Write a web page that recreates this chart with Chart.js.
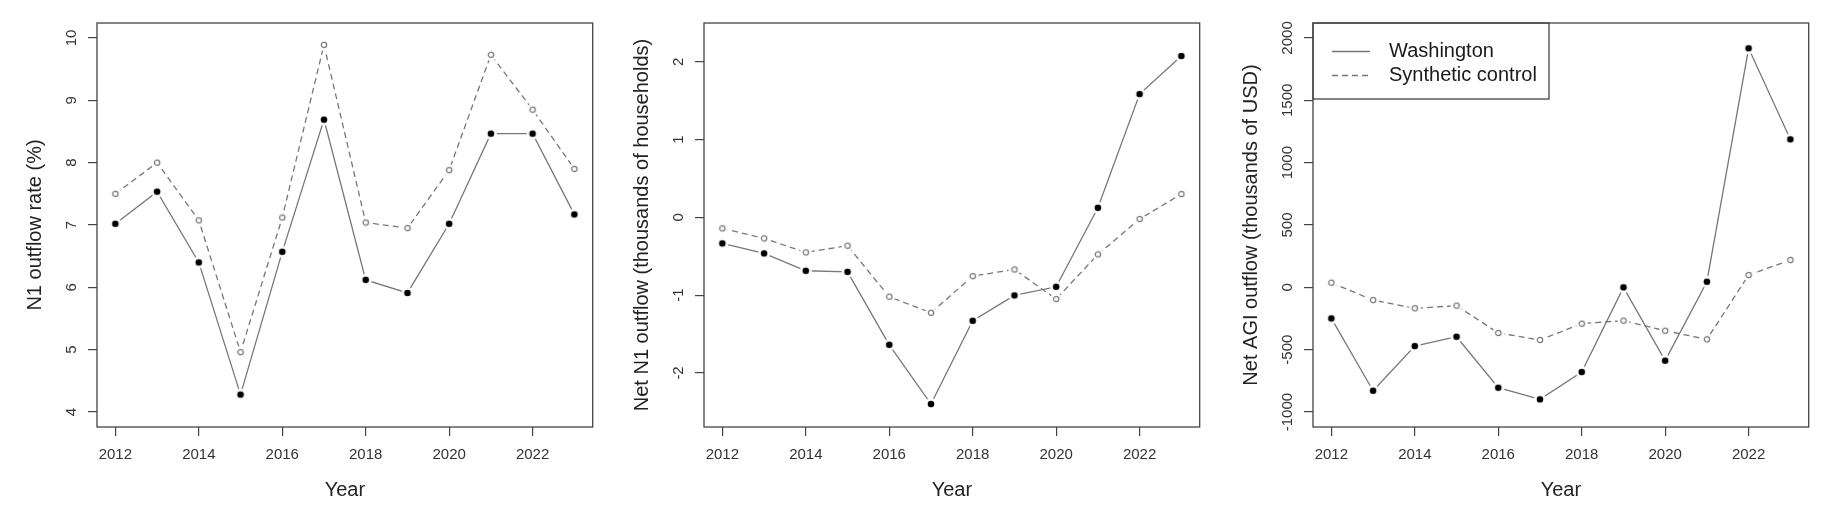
<!DOCTYPE html>
<html>
<head>
<meta charset="utf-8">
<script src="https://cdn.jsdelivr.net/npm/chart.js@4.4.1/dist/chart.umd.min.js"></script>
<style>
  body { margin: 0; background: #fff; }
  .panel { position: absolute; top: 0; }
</style>
</head>
<body>
<canvas id="rate" class="panel" width="581" height="510" style="left:17px"></canvas>
<canvas id="net" class="panel" width="581" height="510" style="left:624px"></canvas>
<canvas id="agi" class="panel" width="581" height="510" style="left:1233px"></canvas>
<script>
// Years on the x axis and the labelled ticks
const years = [2012, 2013, 2014, 2015, 2016, 2017, 2018, 2019, 2020, 2021, 2022, 2023];
const xTicks = [2012, 2014, 2016, 2018, 2020, 2022];

// Panel 1 - N1 outflow rate (%)
const waRate = [7.02, 7.535, 6.40, 4.28, 6.57, 8.69, 6.12, 5.91, 7.02, 8.465, 8.465, 7.17];
const scRate = [7.50, 8.00, 7.075, 4.96, 7.12, 9.89, 7.04, 6.95, 7.88, 9.73, 8.85, 7.90];
const rateTicks = [4, 5, 6, 7, 8, 9, 10];

// Panel 2 - net N1 outflow (thousands of households)
const waNet = [-0.334, -0.463, -0.686, -0.70, -1.638, -2.40, -1.329, -1.003, -0.892, 0.124, 1.586, 2.075];
const scNet = [-0.141, -0.27, -0.45, -0.364, -1.02, -1.226, -0.755, -0.669, -1.05, -0.476, -0.021, 0.30];
const netTicks = [-2, -1, 0, 1, 2];

// Panel 3 - net AGI outflow (thousands of USD)
const waAgi = [-249, -829, -471, -396, -805, -898, -679, 0, -588, 45, 1917, 1187];
const scAgi = [37, -102, -168, -147, -366, -422, -291, -267, -348, -417, 99, 219];
const agiTicks = [-1000, -500, 0, 500, 1000, 1500, 2000];

const seriesNames = ['Washington', 'Synthetic control'];

const FONT = "'Liberation Sans', Arial, sans-serif";
const LINE = '#777';

// marker with a white halo, so the line stops short of the point (like R type="b")
const makeMarker = (filled) => {
    const c = document.createElement('canvas');
    c.width = 14;
    c.height = 14;
    const g = c.getContext('2d');
    g.fillStyle = '#fff';
    g.beginPath();
    g.arc(7, 7, 6, 0, Math.PI * 2);
    g.fill();
    g.beginPath();
    if (filled) {
        g.arc(7, 7, 3.3, 0, Math.PI * 2);
        g.fillStyle = '#000';
        g.fill();
    } else {
        g.arc(7, 7, 2.7, 0, Math.PI * 2);
        g.strokeStyle = LINE;
        g.lineWidth = 1.2;
        g.stroke();
    }
    return c;
};
const solidMark = makeMarker(true);
const openMark = makeMarker(false);

const toPoints = (vals) => vals.map((v, i) => ({ x: years[i], y: v }));

// box round the plot, rotated y tick labels and the legend
const framePlugin = {
    id: 'frame',
    afterDraw(chart, args, opts) {
        const { ctx, chartArea: a, scales: { y } } = chart;
        ctx.save();
        ctx.strokeStyle = '#444';
        ctx.lineWidth = 1.3;
        ctx.strokeRect(a.left, a.top, a.right - a.left, a.bottom - a.top);

        ctx.font = `15px ${FONT}`;
        ctx.fillStyle = '#333';
        ctx.textAlign = 'center';
        ctx.textBaseline = 'middle';
        y.ticks.forEach(t => {
            ctx.save();
            ctx.translate(a.left - 25, y.getPixelForValue(t.value));
            ctx.rotate(-Math.PI / 2);
            ctx.fillText(String(t.value), 0, 0);
            ctx.restore();
        });

        if (opts.legend) {
            ctx.strokeRect(a.left, a.top, 236, 76);
            ctx.font = `20px ${FONT}`;
            ctx.fillStyle = '#1a1a1a';
            ctx.textAlign = 'left';
            chart.data.datasets.forEach((ds, i) => {
                const ly = a.top + 28.5 + i * 24;
                ctx.beginPath();
                ctx.strokeStyle = ds.borderColor;
                ctx.lineWidth = ds.borderWidth;
                ctx.setLineDash(ds.borderDash || []);
                ctx.moveTo(a.left + 19, ly);
                ctx.lineTo(a.left + 57, ly);
                ctx.stroke();
                ctx.fillText(ds.label, a.left + 76, ly);
            });
        }
        ctx.restore();
    }
};

const makeChart = (id, wa, sc, yTicks, yMin, yMax, yTitle, legend) => {
    const ctx = document.getElementById(id).getContext('2d');
    return new Chart(ctx, {
        type: 'line',
        data: {
            datasets: [{
                label: seriesNames[0],
                data: toPoints(wa),
                borderColor: LINE,
                borderWidth: 1.3,
                pointStyle: solidMark,
                pointRadius: 3
            }, {
                label: seriesNames[1],
                data: toPoints(sc),
                borderColor: LINE,
                borderWidth: 1.3,
                borderDash: [6, 4],
                pointStyle: openMark,
                pointRadius: 3
            }]
        },
        options: {
            responsive: false,
            animation: false,
            events: [],
            layout: { padding: { top: 23, right: 4, left: 0, bottom: 0 } },
            plugins: {
                legend: { display: false },
                tooltip: { enabled: false },
                frame: { legend: legend }
            },
            scales: {
                x: {
                    type: 'linear',
                    min: 2011.56,
                    max: 2023.44,
                    afterBuildTicks: s => { s.ticks = xTicks.map(v => ({ value: v })); },
                    afterFit: s => { s.height = 83; },
                    border: { display: false },
                    grid: { drawOnChartArea: false, drawTicks: true, tickLength: 9, color: '#444', lineWidth: 1.2 },
                    ticks: {
                        autoSkip: false,
                        maxRotation: 0,
                        padding: 10,
                        color: '#333',
                        font: { family: FONT, size: 15 },
                        callback: v => String(v)
                    },
                    title: {
                        display: true,
                        text: 'Year',
                        color: '#222',
                        font: { family: FONT, size: 20 },
                        padding: { top: 0, bottom: 8 }
                    }
                },
                y: {
                    type: 'linear',
                    min: yMin,
                    max: yMax,
                    afterBuildTicks: s => { s.ticks = yTicks.map(v => ({ value: v })); },
                    afterFit: s => { s.width = 80; },
                    border: { display: false },
                    grid: { drawOnChartArea: false, drawTicks: true, tickLength: 9, color: '#444', lineWidth: 1.2 },
                    ticks: { display: false },
                    title: {
                        display: true,
                        text: yTitle,
                        color: '#222',
                        font: { family: FONT, size: 20 },
                        padding: { top: 6, bottom: 0 }
                    }
                }
            }
        },
        plugins: [framePlugin]
    });
};

makeChart('rate', waRate, scRate, rateTicks, 3.76, 10.24, 'N1 outflow rate (%)', false);
makeChart('net', waNet, scNet, netTicks, -2.695, 2.5, 'Net N1 outflow (thousands of households)', false);
makeChart('agi', waAgi, scAgi, agiTicks, -1120, 2120, 'Net AGI outflow (thousands of USD)', true);
</script>
</body>
</html>
